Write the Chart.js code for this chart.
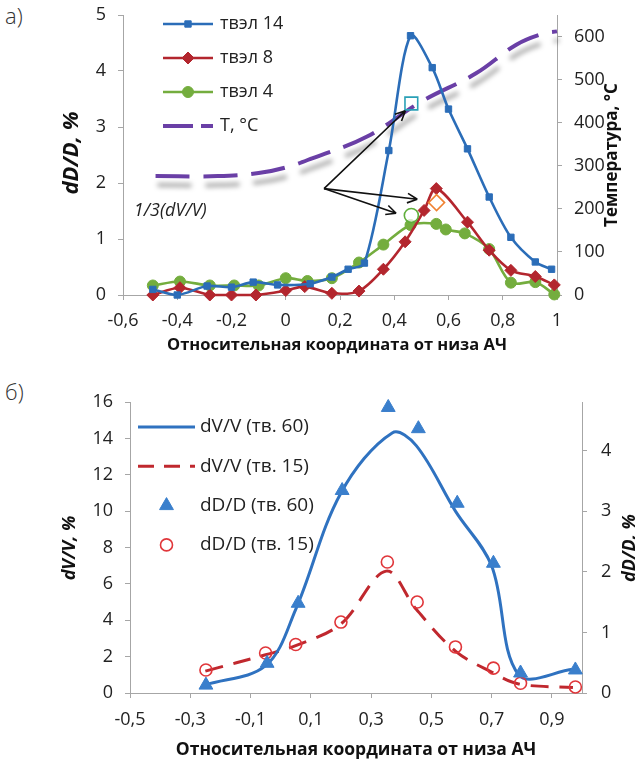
<!DOCTYPE html>
<html>
<head>
<meta charset="utf-8">
<script src="https://cdn.jsdelivr.net/npm/chart.js@4.4.0/dist/chart.umd.min.js"></script>
<style>
html,body{margin:0;padding:0;background:#fff;width:635px;height:765px;overflow:hidden;position:relative;font-family:'Open Sans',sans-serif;}
#chartA{position:absolute;left:0;top:0;}
#chartB{position:absolute;left:0;top:370px;}
.panel{position:absolute;left:5px;font-size:22px;color:#333;font-weight:300;}
</style>
</head>
<body>
<div class="panel" style="top:0px">а)</div>
<div class="panel" style="top:376px">б)</div>
<canvas id="chartA" width="635" height="362"></canvas>
<canvas id="chartB" width="645" height="395"></canvas>
<script>
// ---- panel а): dD/D along the rod for three rods + temperature ----
const xTvel14 = [-0.49,-0.4,-0.29,-0.2,-0.12,-0.03,0.09,0.17,0.23,0.29,0.38,0.46,0.54,0.6,0.67,0.75,0.83,0.92,0.98];
const dD14    = [0.1,0.0,0.16,0.14,0.23,0.18,0.2,0.32,0.46,0.57,2.58,4.63,4.06,3.32,2.61,1.75,1.03,0.59,0.46];
const xTvel8  = [-0.49,-0.39,-0.28,-0.2,-0.11,0.0,0.07,0.17,0.27,0.36,0.44,0.51,0.555,0.67,0.75,0.83,0.92,0.99];
const dD8     = [0,0.13,0,0,0,0.08,0.15,0.03,0.07,0.46,0.95,1.51,1.9,1.3,0.8,0.44,0.33,0.18];
const xTvel4  = [-0.49,-0.39,-0.28,-0.19,-0.1,0.0,0.08,0.17,0.27,0.36,0.46,0.555,0.59,0.66,0.75,0.83,0.92,0.99];
const dD4     = [0.17,0.24,0.17,0.17,0.17,0.3,0.25,0.3,0.58,0.9,1.25,1.27,1.17,1.1,0.82,0.22,0.23,0.01];
const xTemp   = [-0.48,-0.25,-0.1,0.0,0.1,0.3,0.5,0.7,0.85,0.95,1.0];
const tempC   = [276,276,283,296,318,368,449,514,581,607,612];
// 1/3(dV/V) points for rods 14, 8, 4
const xThird  = [0.463,0.556,0.463];
const yThird  = [3.42,1.65,1.42];
const namesA  = ['твэл 14','твэл 8','твэл 4','T, °C'];
const xTicksA = [-0.6,-0.4,-0.2,0,0.2,0.4,0.6,0.8,1];
const yTicksA = [0,1,2,3,4,5];
const tTicksA = [0,100,200,300,400,500,600];

// ---- panel б): dV/V and dD/D for rods 60 and 15 ----
const xLine60 = [-0.25,-0.05,0.05,0.2,0.37,0.45,0.58,0.7,0.79,0.97];
const dV60    = [0.45,1.5,4.6,11.0,14.3,13.6,10.0,7.0,1.0,1.3];
const xLine15 = [-0.25,-0.05,0.05,0.2,0.35,0.45,0.58,0.7,0.79,0.97];
const dV15    = [1.2,2.1,2.6,3.8,6.7,4.6,2.3,1.15,0.5,0.3];
const xMark60 = [-0.248,-0.045,0.058,0.204,0.357,0.457,0.586,0.706,0.796,0.978];
const dD60    = [0.13,0.49,1.48,3.34,4.71,4.36,3.13,2.14,0.33,0.38];
const xMark15 = [-0.248,-0.05,0.05,0.2,0.354,0.453,0.58,0.706,0.796,0.978];
const dD15    = [0.38,0.66,0.8,1.17,2.16,1.5,0.76,0.41,0.16,0.10];
const namesB  = ['dV/V (тв. 60)','dV/V (тв. 15)','dD/D (тв. 60)','dD/D (тв. 15)'];
const xTicksB = [-0.5,-0.3,-0.1,0.1,0.3,0.5,0.7,0.9];
const yTicksB = [0,2,4,6,8,10,12,14,16];
const dTicksB = [0,1,2,3,4];

const FONT = "'Open Sans', sans-serif";
const AXIS = '#a6a6a6';
const TXT = '#222';

function pts(xs, ys){ return xs.map((x,i)=>({x, y: ys[i]})); }
function fmt(v){ return String(Math.round(v*10)/10).replace('.', ','); }
function fixTicks(arr){ return s => { s.ticks = arr.map(v=>({value:v})); }; }

function axis(pos, min, max, tickArr, size, fontPx, pad){
  return {
    type:'linear', position:pos, min, max,
    afterBuildTicks: fixTicks(tickArr),
    afterFit: s => {
      if (pos==='bottom') s.height = size;
      else { s.width = size; s.paddingTop = 0; s.paddingBottom = 0; }
    },
    grid:{drawOnChartArea:false, drawTicks:true, tickLength:5, color:AXIS, lineWidth:1},
    border:{color:AXIS, width:1},
    ticks:{font:{family:FONT, size:fontPx}, color:TXT, padding:pad, autoSkip:false, maxRotation:0, callback:fmt}
  };
}

// draws legend, titles, notes and arrows on top of each chart
const decor = {
  id:'decor',
  beforeDatasetDraw(chart, args, opts){
    if (opts.shadowIndex === args.index){
      const c = chart.ctx; c.save();
      c.shadowColor = 'rgba(0,0,0,0.35)'; c.shadowBlur = 5; c.shadowOffsetX = 2; c.shadowOffsetY = 9;
    }
  },
  afterDatasetDraw(chart, args, opts){
    if (opts.shadowIndex === args.index) chart.ctx.restore();
  },
  afterDraw(chart, args, opts){
    const c = chart.ctx;
    const xs = chart.scales.x;
    // arrows (data coords)
    (opts.arrows || []).forEach(a => {
      const ys = chart.scales[a.axis];
      const x0 = xs.getPixelForValue(a.from[0]), y0 = ys.getPixelForValue(a.from[1]);
      const x1 = xs.getPixelForValue(a.to[0]), y1 = ys.getPixelForValue(a.to[1]);
      const ang = Math.atan2(y1-y0, x1-x0);
      c.save(); c.strokeStyle = '#111'; c.lineWidth = 1.6;
      c.beginPath(); c.moveTo(x0,y0); c.lineTo(x1,y1);
      [0.45,-0.45].forEach(d => { c.moveTo(x1,y1); c.lineTo(x1-11*Math.cos(ang+d), y1-11*Math.sin(ang+d)); });
      c.stroke(); c.restore();
    });
    (opts.notes || []).forEach(n => {
      const ys = chart.scales[n.axis];
      c.save(); c.font = n.font; c.fillStyle = TXT; c.textBaseline = 'middle'; c.textAlign = 'left';
      c.fillText(n.text, xs.getPixelForValue(n.x), ys.getPixelForValue(n.y)); c.restore();
    });
    // legend
    const L = opts.legend;
    if (L){
      L.items.forEach((it, k) => {
        const ds = chart.data.datasets[it.ds];
        const y = L.y0 + k*L.dy;
        c.save();
        if (it.line){
          c.strokeStyle = ds.borderColor; c.lineWidth = ds.borderWidth;
          c.setLineDash(it.dash || ds.borderDash || []);
          c.beginPath(); c.moveTo(L.x0, y); c.lineTo(L.x1, y); c.stroke();
        }
        if (ds.pointRadius > 0){
          c.setLineDash([]);
          c.fillStyle = ds.pointBackgroundColor; c.strokeStyle = ds.pointBorderColor; c.lineWidth = ds.pointBorderWidth;
          Chart.helpers.drawPoint(c, {pointStyle:ds.pointStyle, radius:ds.pointRadius, rotation:0, borderWidth:ds.pointBorderWidth}, (L.x0+L.x1)/2, y);
        }
        c.fillStyle = TXT; c.font = L.font; c.textBaseline = 'middle'; c.textAlign = 'left';
        c.fillText(it.label, L.tx, y);
        c.restore();
      });
    }
    // axis titles (canvas coords)
    (opts.titles || []).forEach(t => {
      c.save(); c.translate(t.x, t.y); if (t.rot) c.rotate(t.rot*Math.PI/180);
      c.font = t.font; c.fillStyle = '#111'; c.textAlign = 'center'; c.textBaseline = 'middle';
      c.fillText(t.text, 0, 0); c.restore();
    });
  }
};

function lineSet(label, xs, ys, color, style, r, yAxisID, extra){
  return Object.assign({
    label, data: pts(xs, ys), yAxisID, borderColor: color, borderWidth: 2.6,
    pointStyle: style, pointRadius: r, pointBackgroundColor: color, pointBorderColor: color, pointBorderWidth: 1,
    tension: 0.3, clip: false, showLine: true, fill: false
  }, extra || {});
}

const BLUE_A = '#2b6db8', RED_A = '#b3262e', GREEN_A = '#74ad3e', PURPLE = '#6a3fa6';

new Chart(document.getElementById('chartA'), {
  type:'scatter',
  data:{ datasets:[
    {label:'1/3(dV/V) 14', data: pts([xThird[0]],[yThird[0]]), yAxisID:'y', pointStyle:'rect', pointRadius:9, pointBorderWidth:1.6, pointBorderColor:'#2aa0b6', pointBackgroundColor:'rgba(255,255,255,0)', clip:false},
    {label:'1/3(dV/V) 8', data: pts([xThird[1]],[yThird[1]]), yAxisID:'y', pointStyle:'rectRot', pointRadius:8, pointBorderWidth:1.6, pointBorderColor:'#f08232', pointBackgroundColor:'rgba(255,255,255,0)', clip:false},
    {label:'1/3(dV/V) 4', data: pts([xThird[2]],[yThird[2]]), yAxisID:'y', pointStyle:'circle', pointRadius:7, pointBorderWidth:1.6, pointBorderColor:'#5fae3a', pointBackgroundColor:'rgba(255,255,255,0.7)', clip:false},
    lineSet(namesA[0], xTvel14, dD14, BLUE_A, 'rect', 4.5, 'y'),
    lineSet(namesA[1], xTvel8, dD8, RED_A, 'rectRot', 6, 'y'),
    lineSet(namesA[2], xTvel4, dD4, GREEN_A, 'circle', 5.5, 'y'),
    lineSet(namesA[3], xTemp, tempC, PURPLE, 'circle', 0, 'yT', {borderWidth:4, borderDash:[34,14], tension:0.4})
  ]},
  options:{
    responsive:false, animation:false, events:[],
    layout:{padding:{top:15, left:0, right:0, bottom:0}},
    plugins:{
      legend:{display:false}, tooltip:{enabled:false},
      decor:{
        shadowIndex: 6,
        legend:{x0:163, x1:213, tx:220, y0:24, dy:34, font:"18px "+FONT,
          items:[{ds:3,label:namesA[0],line:true},{ds:4,label:namesA[1],line:true},{ds:5,label:namesA[2],line:true},{ds:6,label:namesA[3],line:true,dash:[30,8]}]},
        notes:[{text:'1/3(dV/V)', x:-0.56, y:1.5, axis:'y', font:"italic 18px "+FONT}],
        arrows:[
          {axis:'y', from:[0.141,1.9], to:[0.441,3.29]},
          {axis:'y', from:[0.141,1.9], to:[0.485,1.71]},
          {axis:'y', from:[0.141,1.9], to:[0.407,1.46]}
        ],
        titles:[
          {text:'dD/D, %', x:72, y:153, rot:-90, font:"italic bold 22px "+FONT},
          {text:'Температура, °C', x:612, y:155, rot:-90, font:"bold 17px "+FONT},
          {text:'Относительная координата от низа АЧ', x:337, y:345, font:"bold 16.5px "+FONT}
        ]
      }
    },
    scales:{
      x: axis('bottom', -0.6, 1, xTicksA, 67, 18, 10),
      y: axis('left', 0, 5, yTicksA, 123, 18, 12),
      yT: axis('right', 0, 650, tTicksA, 78, 18, 12)
    }
  },
  plugins:[decor]
});

const BLUE_B = '#2f72c0', RED_B = '#c0282e', RED_O = '#e0363a';

new Chart(document.getElementById('chartB'), {
  type:'scatter',
  data:{ datasets:[
    {label:namesB[2], data: pts(xMark60, dD60), yAxisID:'yD', pointStyle:'triangle', pointRadius:8, pointBackgroundColor:'#3a7fcc', pointBorderColor:'#3a7fcc', pointBorderWidth:1, showLine:false, clip:false},
    {label:namesB[3], data: pts(xMark15, dD15), yAxisID:'yD', pointStyle:'circle', pointRadius:6, pointBackgroundColor:'rgba(255,255,255,0)', pointBorderColor:RED_O, pointBorderWidth:1.6, showLine:false, clip:false},
    lineSet(namesB[0], xLine60, dV60, BLUE_B, 'circle', 0, 'y', {borderWidth:3, tension:0.35}),
    lineSet(namesB[1], xLine15, dV15, RED_B, 'circle', 0, 'y', {borderWidth:3, borderDash:[18,11], tension:0.35})
  ]},
  options:{
    responsive:false, animation:false, events:[],
    layout:{padding:{top:32, left:0, right:0, bottom:0}},
    plugins:{
      legend:{display:false}, tooltip:{enabled:false},
      decor:{
        legend:{x0:138, x1:195, tx:200, y0:57, dy:39.3, font:"19px "+FONT,
          items:[{ds:2,label:namesB[0],line:true},{ds:3,label:namesB[1],line:true,dash:[16,10]},{ds:0,label:namesB[2]},{ds:1,label:namesB[3]}]},
        titles:[
          {text:'dV/V, %', x:70, y:178, rot:-90, font:"italic bold 18px "+FONT},
          {text:'dD/D, %', x:630, y:178, rot:-90, font:"italic bold 18px "+FONT},
          {text:'Относительная координата от низа АЧ', x:356, y:380, font:"bold 17.5px "+FONT}
        ]
      }
    },
    scales:{
      x: axis('bottom', -0.5, 1.0, xTicksB, 72, 18, 11),
      y: axis('left', 0, 16, yTicksB, 130, 18, 12),
      yD: axis('right', 0, 4.8, dTicksB, 63, 18, 14)
    }
  },
  plugins:[decor]
});
</script>
</body>
</html>
